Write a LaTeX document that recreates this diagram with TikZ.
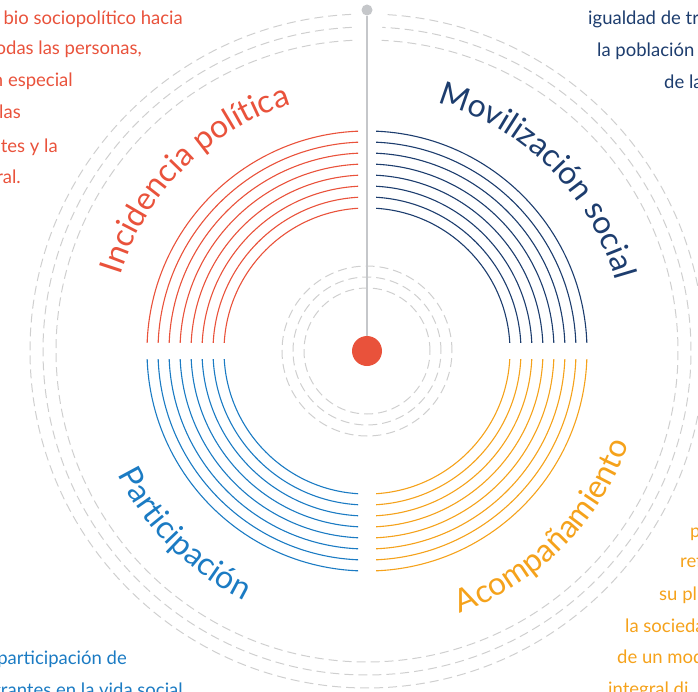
\documentclass[tikz,border=0pt]{standalone}
\usepackage{fontspec}
\setmainfont{Lato}
\usetikzlibrary{decorations.text}

\definecolor{incred}{HTML}{E9523B}
\definecolor{movnavy}{HTML}{1D3D6E}
\definecolor{partblue}{HTML}{1B7BC3}
\definecolor{acomporange}{HTML}{F5A21B}
\definecolor{axisgray}{HTML}{C5C7CA}
\definecolor{ringgray}{HTML}{CFCFCF}

\newcommand{\arcfont}{\fontsize{32}{32}\selectfont}
\newcommand{\notefont}{\fontsize{18.5}{32}\selectfont}

\begin{document}
\begin{tikzpicture}[x=1pt, y=1pt,
    ring/.style={ringgray, line width=1pt, dash pattern=on 9pt off 5pt},
    groove/.style={line width=1.1pt},
    note/.style={font=\notefont, inner sep=0pt},
    curved/.style={decorate, decoration={text along path, text align=center, text={#1}}}]
    \useasboundingbox (-367,-340) rectangle (331,351);
    \clip (-367,-340) rectangle (331,351);

    % dashed rings
    \foreach \r in {63,74,85}
        \draw[ring] (0,0) circle (\r);
    \foreach \r in {311,324,337}
        \draw[ring] (92.7:\r) arc[start angle=92.7, end angle=447.3, radius=\r];

    % four groups of grooves
    \begin{scope}
        \clip (-240,8.5) rectangle (-9,240);
        \foreach \r in {143,154,...,220}
            \draw[groove, incred] (0,0) circle (\r);
    \end{scope}
    \begin{scope}
        \clip (9,8.5) rectangle (240,240);
        \foreach \r in {143,154,...,220}
            \draw[groove, movnavy] (0,0) circle (\r);
    \end{scope}
    \begin{scope}
        \clip (-240,-8.5) rectangle (-9,-240);
        \foreach \r in {143,154,...,220}
            \draw[groove, partblue] (0,0) circle (\r);
    \end{scope}
    \begin{scope}
        \clip (9,-8.5) rectangle (240,-240);
        \foreach \r in {143,154,...,220}
            \draw[groove, acomporange] (0,0) circle (\r);
    \end{scope}

    % axis and dots
    \node[circle, fill=axisgray, inner sep=0pt, minimum size=11pt] at (0,341) (top) {};
    \node[circle, fill=incred, inner sep=0pt, minimum size=30pt] at (0,0) (hub) {};
    \draw[axisgray, line width=1.5pt] (top) -- (hub);

    % curved titles
    \path[curved={|\arcfont|Incidencia política}, decoration={text color=incred}]
        (180:258) arc[start angle=180, end angle=90, radius=258];
    \path[curved={|\arcfont|Movilización social}, decoration={text color=movnavy}]
        (90:258) arc[start angle=90, end angle=0, radius=258];
    \path[curved={|\arcfont|Participación}, decoration={text color=partblue}]
        (180:278) arc[start angle=180, end angle=270, radius=278];
    \path[curved={|\arcfont|Acompañamiento}, decoration={text color=acomporange}]
        (270:278) arc[start angle=270, end angle=360, radius=278];

    % corner texts
    \node[note, incred, anchor=base east] at (-184,326) (inc1) {bio sociopolítico hacia};
    \node[note, incred, anchor=base east] at (-225,296) (inc2) {odas las personas,};
    \node[note, incred, anchor=base east] at (-294,264) (inc3) {n especial};
    \node[note, incred, anchor=base east] at (-346,232) (inc4) {las};
    \node[note, incred, anchor=base east] at (-309,199) (inc5) {ntes y la};
    \node[note, incred, anchor=base east] at (-346,168) (inc6) {ral.};

    \node[note, movnavy, anchor=base west] at (221,326) (mov1) {igualdad de tr};
    \node[note, movnavy, anchor=base west] at (230,294) (mov2) {la población};
    \node[note, movnavy, anchor=base west] at (297,262) (mov3) {de la};

    \node[note, acomporange, anchor=base west] at (323,-186) (aco1) {p};
    \node[note, acomporange, anchor=base west] at (313,-216) (aco2) {ref};
    \node[note, acomporange, anchor=base west] at (292,-249) (aco3) {su pl};
    \node[note, acomporange, anchor=base west] at (258,-281) (aco4) {la socieda};
    \node[note, acomporange, anchor=base west] at (250,-312) (aco5) {de un mod};
    \node[note, acomporange, anchor=base west] at (241,-344) (aco6) {integral di};

    \node[note, partblue, anchor=base east] at (-240,-313) (par1) {participación de};
    \node[note, partblue, anchor=base east] at (-184,-345) (par2) {grantes en la vida social};
\end{tikzpicture}
\end{document}
